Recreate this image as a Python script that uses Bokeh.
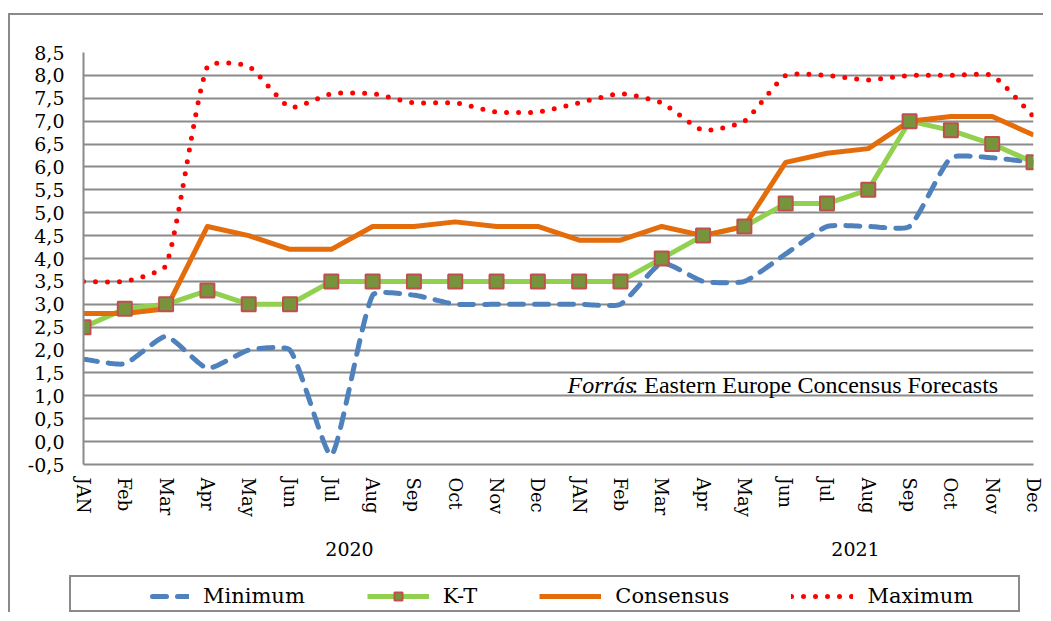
import numpy as np
from bokeh.plotting import figure
from bokeh.models import Range1d, FixedTicker, LinearAxis, Label, Legend, LegendItem
from bokeh.layouts import column
from bokeh.embed import file_html
from bokeh.resources import INLINE

# ---------------- data ----------------
months = ["JAN", "Feb", "Mar", "Apr", "May", "Jun", "Jul", "Aug", "Sep", "Oct", "Nov", "Dec",
          "JAN", "Feb", "Mar", "Apr", "May", "Jun", "Jul", "Aug", "Sep", "Oct", "Nov", "Dec"]
years = ["2020", "2021"]
minimum = [1.8, 1.7, 2.3, 1.6, 2.0, 2.0, -0.3, 3.2, 3.2, 3.0, 3.0, 3.0,
           3.0, 3.0, 3.9, 3.5, 3.5, 4.1, 4.7, 4.7, 4.7, 6.2, 6.2, 6.1]
kt = [2.5, 2.9, 3.0, 3.3, 3.0, 3.0, 3.5, 3.5, 3.5, 3.5, 3.5, 3.5,
      3.5, 3.5, 4.0, 4.5, 4.7, 5.2, 5.2, 5.5, 7.0, 6.8, 6.5, 6.1]
consensus = [2.8, 2.8, 2.9, 4.7, 4.5, 4.2, 4.2, 4.7, 4.7, 4.8, 4.7, 4.7,
             4.4, 4.4, 4.7, 4.5, 4.7, 6.1, 6.3, 6.4, 7.0, 7.1, 7.1, 6.7]
maximum = [3.5, 3.5, 3.85, 8.2, 8.2, 7.3, 7.6, 7.6, 7.4, 7.4, 7.2, 7.2,
           7.4, 7.6, 7.4, 6.8, 7.0, 8.0, 8.0, 7.9, 8.0, 8.0, 8.0, 7.1]
y_ticks = [-0.5, 0.0, 0.5, 1.0, 1.5, 2.0, 2.5, 3.0, 3.5, 4.0, 4.5, 5.0, 5.5, 6.0, 6.5, 7.0, 7.5, 8.0, 8.5]
y_tick_labels = ["-0,5", "0,0", "0,5", "1,0", "1,5", "2,0", "2,5", "3,0", "3,5", "4,0", "4,5",
                 "5,0", "5,5", "6,0", "6,5", "7,0", "7,5", "8,0", "8,5"]
series_names = ["Minimum", "K-T", "Consensus", "Maximum"]
source_italic = "Forrás"
source_rest = ": Eastern Europe Concensus Forecasts"

x_idx = list(range(len(months)))

# ---------------- layout constants ----------------
FRAME_W, FRAME_H = 950, 412
GRID = "#8a8a8a"
TICK_FONT = "DejaVu Serif"


def smooth_curve(xs, ys, sx, sy, t=0.17, n=20):
    """Excel-like smoothed line (Bezier through every data point), computed in pixel space."""
    P = np.column_stack([np.asarray(xs, float) * sx, np.asarray(ys, float) * sy])
    N = len(P)
    out = [P[0]]
    ts = np.linspace(0, 1, n + 1)[1:][:, None]
    for i in range(N - 1):
        p0 = P[i - 1] if i > 0 else P[i]
        p1, p2 = P[i], P[i + 1]
        p3 = P[i + 2] if i + 2 < N else P[i + 1]
        d01 = np.linalg.norm(p1 - p0)
        d12 = np.linalg.norm(p2 - p1)
        d23 = np.linalg.norm(p3 - p2)
        r1 = d12 / (d01 + d12) if d01 + d12 > 0 else 0
        r2 = d12 / (d12 + d23) if d12 + d23 > 0 else 0
        c1 = p1 + (p2 - p0) * r1 * t
        c2 = p2 - (p3 - p1) * r2 * t
        seg = ((1 - ts) ** 3) * p1 + 3 * ((1 - ts) ** 2) * ts * c1 + 3 * (1 - ts) * ts ** 2 * c2 + ts ** 3 * p2
        out.extend(seg)
    out = np.array(out)
    return out[:, 0] / sx, out[:, 1] / sy


sx = FRAME_W / 23.0
sy = FRAME_H / 9.0

p = figure(width=1033, height=560, x_range=Range1d(0, 23), y_range=Range1d(-0.5, 8.5),
           output_backend="svg", toolbar_location=None,
           min_border_left=73, min_border_right=10, min_border_top=37, min_border_bottom=111,
           background_fill_color="white", border_fill_color="white")
p.outline_line_color = None

# y axis
yt = FixedTicker(ticks=y_ticks)
p.yaxis.ticker = yt
p.yaxis.major_label_overrides = dict(zip(y_ticks, y_tick_labels))
p.yaxis.major_label_text_font = TICK_FONT
p.yaxis.major_label_text_font_size = "19px"
p.yaxis.major_label_text_color = "#000000"
p.yaxis.major_tick_out = 0
p.yaxis.major_tick_in = 0
p.yaxis.minor_tick_line_color = None
p.yaxis.major_label_standoff = 19
p.yaxis.axis_line_color = GRID
p.yaxis.axis_line_width = 2
p.ygrid.ticker = yt
p.ygrid.grid_line_color = GRID
p.ygrid.grid_line_width = 2
p.xgrid.visible = False

# x axis (months)
p.xaxis.ticker = FixedTicker(ticks=x_idx)
p.xaxis.major_label_overrides = {i: m for i, m in enumerate(months)}
p.xaxis.major_label_orientation = "vertical"
p.xaxis.major_label_text_font = TICK_FONT
p.xaxis.major_label_text_font_size = "18px"
p.xaxis.major_label_text_color = "#000000"
p.xaxis.major_tick_out = 0
p.xaxis.major_tick_in = 0
p.xaxis.minor_tick_line_color = None
p.xaxis.major_label_standoff = 13
p.xaxis.axis_line_color = GRID
p.xaxis.axis_line_width = 2

# year axis
year_pos = [6.44, 18.69]
year_axis = LinearAxis(ticker=FixedTicker(ticks=year_pos),
                       major_label_overrides={year_pos[0]: years[0], year_pos[1]: years[1]},
                       axis_line_color=None, major_tick_line_color=None, minor_tick_line_color=None,
                       major_label_text_font=TICK_FONT, major_label_text_font_size="19px",
                       major_label_text_color="#000000", major_label_standoff=16)
p.add_layout(year_axis, "below")

# series
mx, my = smooth_curve(x_idx, minimum, sx, sy)
Mx, My = smooth_curve(x_idx, maximum, sx, sy)

min_style = dict(line_color="#4F81BD", line_width=5, line_dash="14 11", line_cap="round")
kt_style = dict(line_color="#92D050", line_width=5, line_join="round")
con_style = dict(line_color="#E46C0A", line_width=5, line_join="round")
max_style = dict(line_color="#FF0000", line_width=5, line_dash="0 12", line_cap="round")
mk_style = dict(marker="square", size=14, fill_color="#77933C", line_color="#C0504D", line_width=2)

p.line(mx, my, **min_style)
p.line(x_idx, kt, **kt_style)
p.line(x_idx, consensus, **con_style)
p.line(Mx, My, **max_style)
p.scatter(x_idx, kt, **mk_style)

# source note
lab1 = Label(x=11.72, y=1.24, text=source_italic, text_font="Liberation Serif", text_font_size="24px",
             text_font_style="italic", text_color="#000000", text_baseline="alphabetic")
lab2 = Label(x=11.72, y=1.24, x_offset=64, text=source_rest, text_font="Liberation Serif",
             text_font_size="24px", text_color="#000000", text_baseline="alphabetic")
p.add_layout(lab1)
p.add_layout(lab2)

# legend in a framed box below (its renderers hold the real series, kept outside its visible range)
leg = figure(width=951, height=37, x_range=Range1d(0, 1), y_range=Range1d(100, 101),
             output_backend="svg", toolbar_location=None, min_border=0,
             x_axis_location=None, y_axis_location=None, margin=(0, 0, 0, 59),
             background_fill_color="white", border_fill_color="white",
             styles={"border": "2px solid #8a8a8a"})
leg.grid.visible = False
leg.outline_line_color = None
r_min = leg.line(x_idx, minimum, **min_style)
r_kt = leg.line(x_idx, kt, **kt_style)
r_ktm = leg.scatter(x_idx, kt, **mk_style)
r_con = leg.line(x_idx, consensus, **con_style)
r_max = leg.line(x_idx, maximum, **max_style)
legend = Legend(items=[LegendItem(label=series_names[0], renderers=[r_min]),
                       LegendItem(label=series_names[1], renderers=[r_kt, r_ktm]),
                       LegendItem(label=series_names[2], renderers=[r_con]),
                       LegendItem(label=series_names[3], renderers=[r_max])],
                location=(-17, 6), orientation="horizontal", border_line_color=None,
                background_fill_alpha=0, label_text_font=TICK_FONT, label_text_font_size="21px",
                label_text_color="#000000", glyph_width=62, glyph_height=20, label_standoff=14,
                spacing=62, padding=0, margin=0)
leg.add_layout(legend)

layout = column(p, leg, spacing=0, margin=(13, 0, 0, 8),
                styles={"border-left": "2px solid #8a8a8a", "border-top": "2px solid #8a8a8a"})

open("out.html", "w").write(file_html(layout, INLINE))
